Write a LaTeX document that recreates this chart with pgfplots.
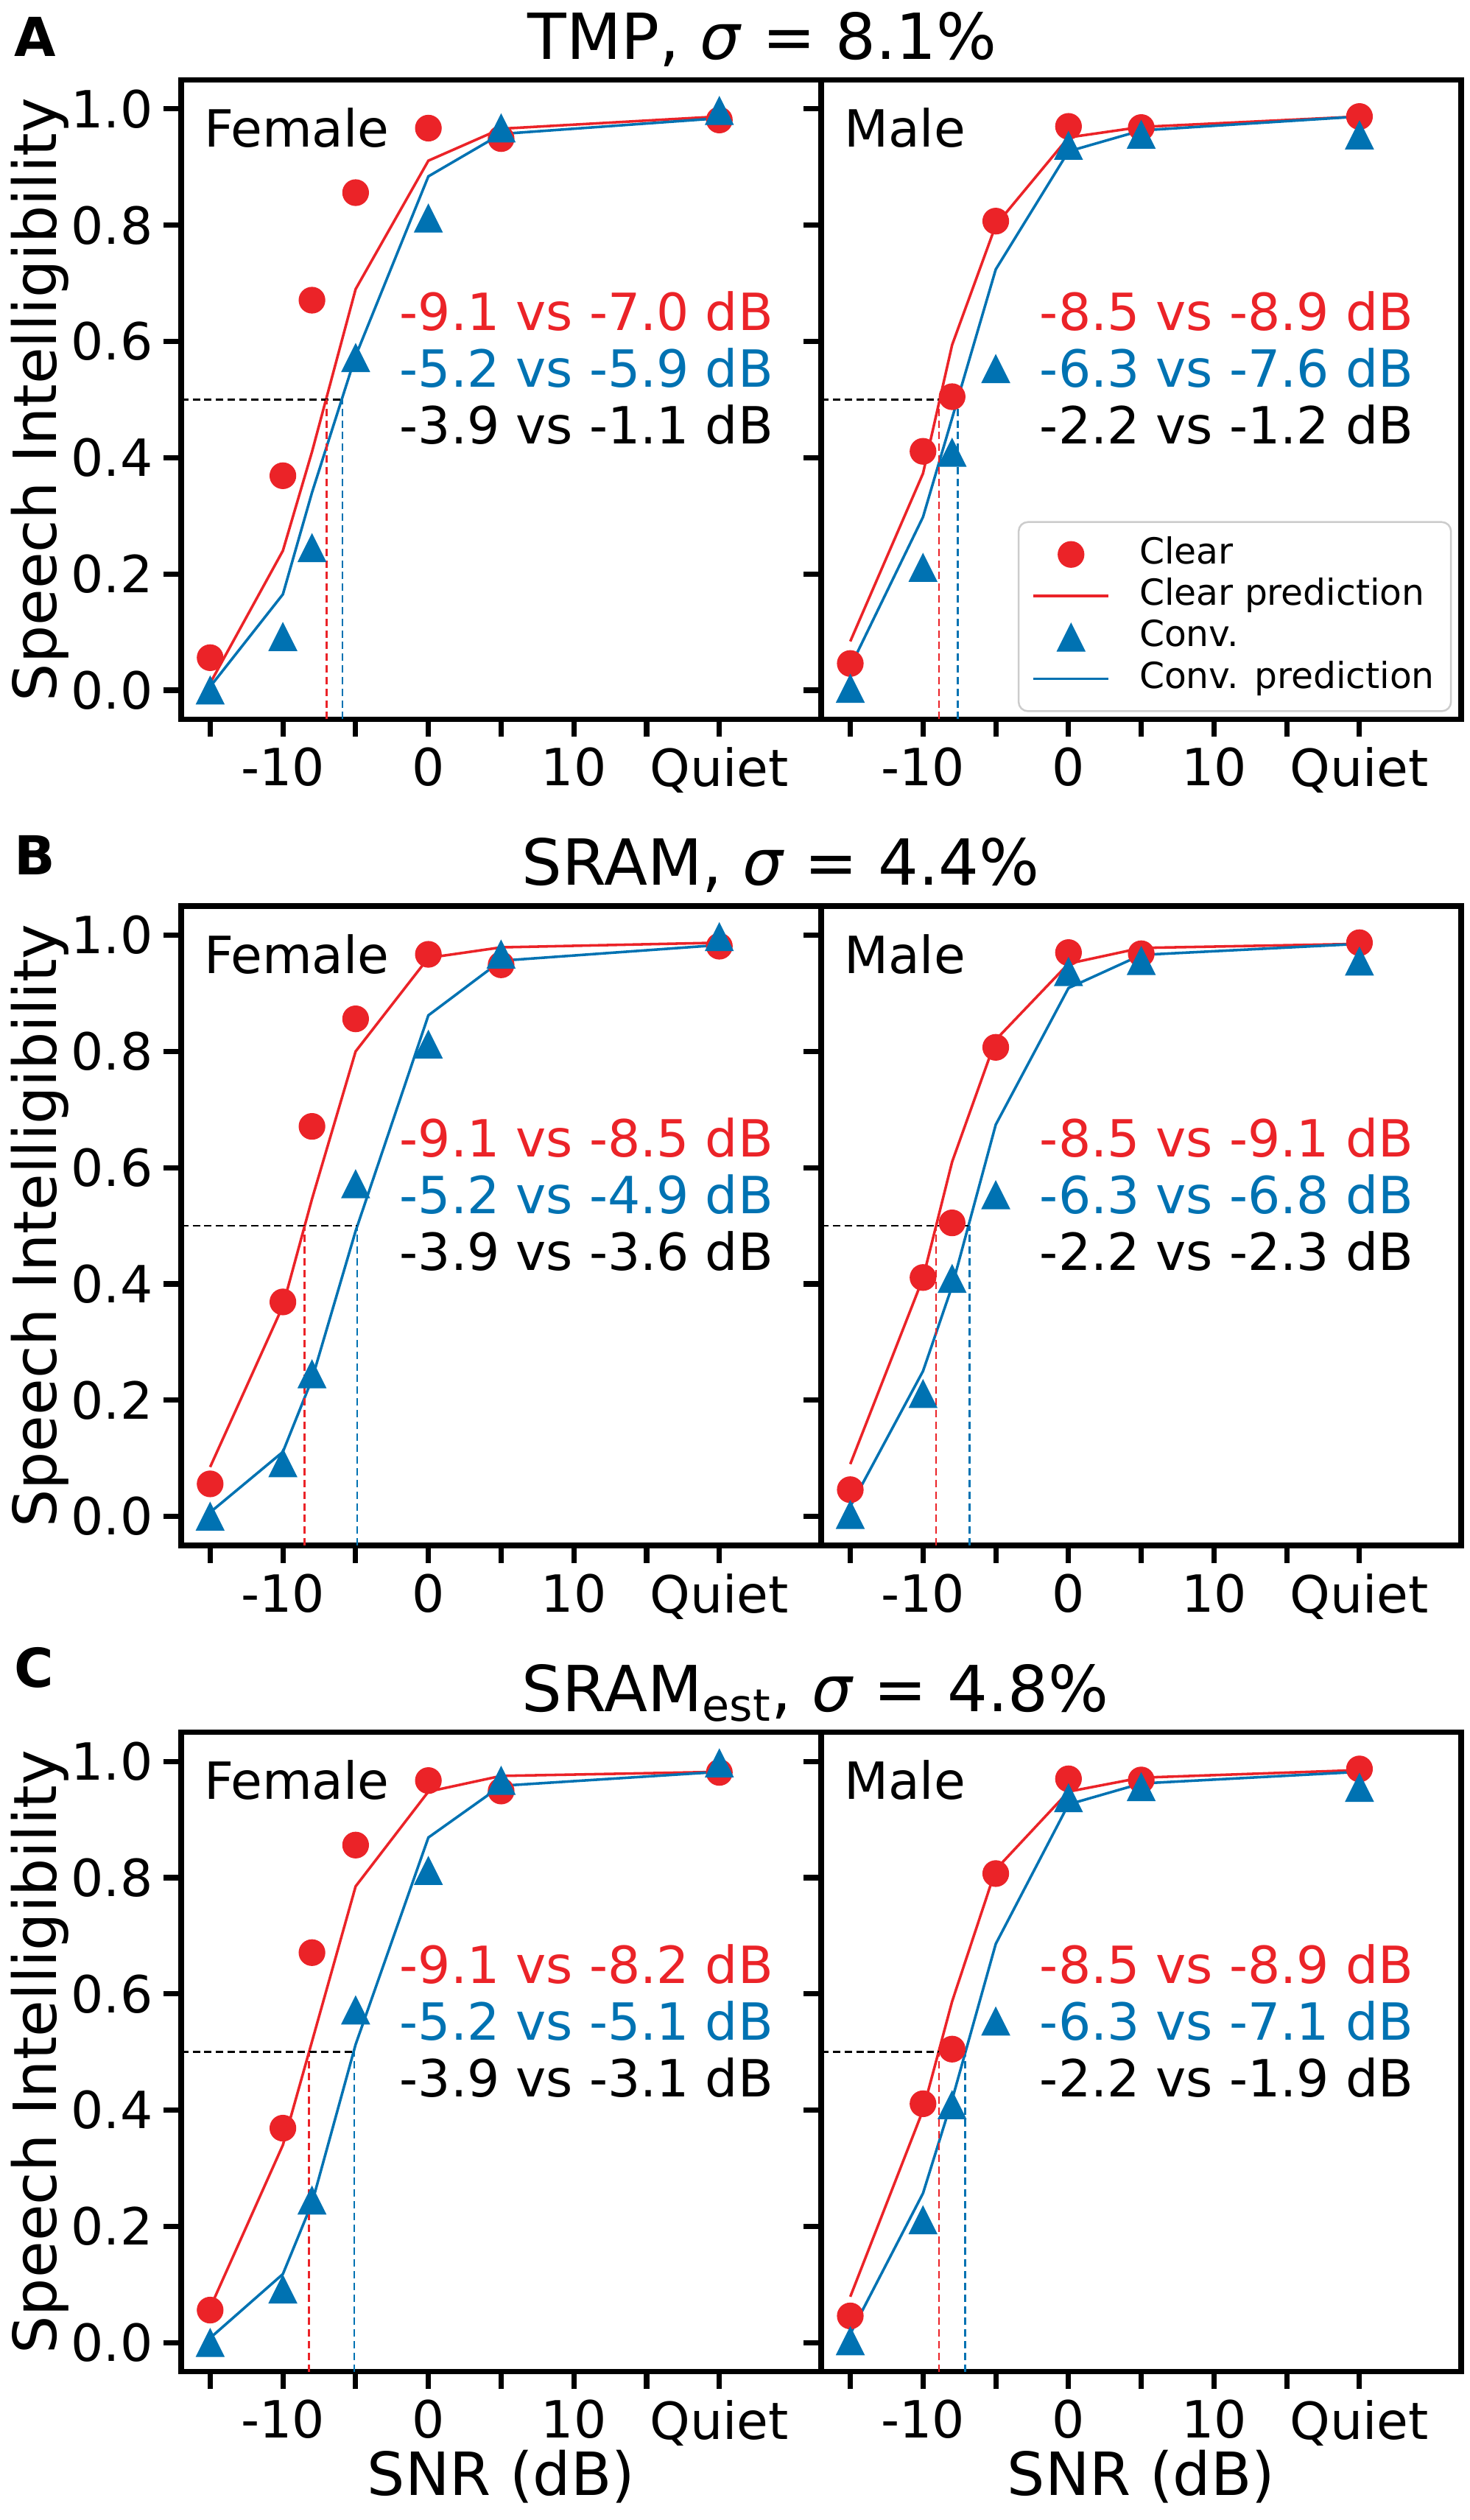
\documentclass[border=0pt]{standalone}
\usepackage{fontspec}
\setmainfont{DejaVu Sans}
\usepackage{pgfplots}
\pgfplotsset{compat=1.18}
\definecolor{cred}{RGB}{235,35,40}
\definecolor{cblue}{RGB}{0,114,178}
\newcommand{\fs}{\fontsize{16.7}{20}\selectfont}
\newcommand{\fl}{\fontsize{19.4}{23}\selectfont}
\newcommand{\ft}{\fontsize{20.7}{25}\selectfont}
\newcommand{\fleg}{\fontsize{11.7}{14}\selectfont}
\newcommand{\fA}{\fontsize{17.5}{21}\selectfont\bfseries}
\pgfdeclareplotmark{mtri}{%
  \pgfpathmoveto{\pgfqpoint{0pt}{\pgfplotmarksize}}%
  \pgfpathlineto{\pgfqpoint{-\pgfplotmarksize}{-\pgfplotmarksize}}%
  \pgfpathlineto{\pgfqpoint{\pgfplotmarksize}{-\pgfplotmarksize}}%
  \pgfpathclose\pgfusepathqfillstroke}
\pgfplotsset{
  panel/.style={
    scale only axis, width=208.6pt, height=208.32pt,
    xmin=-17, xmax=27, ymin=-0.05, ymax=1.05,
    xtick={-15,-10,-5,0,5,10,15,20},
    xticklabels={,-10,,0,,10,,Quiet},
    ytick={0,0.2,0.4,0.6,0.8,1.0},
    xtick pos=left, ytick pos=left, tick align=outside,
    major tick length=5.7pt,
    tick style={black, line width=1.7pt},
    axis line style={line width=1.8pt},
    ticklabel style={font=\fs},
    every axis y label/.style={at={(axis description cs:-0.195,0.5)}, rotate=90, anchor=base, font=\fl},
    every axis x label/.style={at={(axis description cs:0.5,-0.1933)}, anchor=base, font=\fl},
  },
  leftp/.style={panel, yticklabels={0.0,0.2,0.4,0.6,0.8,1.0}, ylabel={Speech Intelligibility}},
  rightp/.style={panel, yticklabels={}},
  legimg/.style={legend image code/.code={\draw[mark repeat=2,mark phase=2,##1] plot coordinates {(0pt,0pt) (12.25pt,0pt) (24.5pt,0pt)};}},
  clearmk/.style={only marks, mark=*, mark size=4.2pt, color=cred, line width=0.3pt, legimg},
  convmk/.style={only marks, mark=mtri, mark size=4.5pt, color=cblue, line width=0.3pt, legimg},
  redpred/.style={no marks, color=cred, line width=0.85pt, legimg},
  bluepred/.style={no marks, color=cblue, line width=0.85pt, legimg},
  dashk/.style={forget plot, no marks, line width=0.62pt, dash pattern=on 2.4pt off 1.4pt},
}
% SRT dashed guide lines: #1 red x, #2 blue x, #3 end of horizontal line
\newcommand{\srt}[3]{%
  \addplot[dashk, black] coordinates {(-17,0.5) (#3,0.5)};
  \addplot[dashk, cred] coordinates {(#1,-0.05) (#1,0.5)};
  \addplot[dashk, cblue] coordinates {(#2,-0.05) (#2,0.5)};
}
\newcommand{\femdata}{%
  \addplot[clearmk] coordinates {(-15,0.056) (-10,0.369) (-8,0.671) (-5,0.856) (0,0.967) (5,0.949) (20,0.981)};
}
\newcommand{\femconv}{%
  \addplot[convmk] coordinates {(-15,0.0) (-10,0.092) (-8,0.245) (-5,0.572) (0,0.812) (5,0.967) (20,0.997)};
}
\newcommand{\maldata}{%
  \addplot[clearmk] coordinates {(-15,0.046) (-10,0.411) (-8,0.505) (-5,0.807) (0,0.970) (5,0.968) (20,0.987)};
}
\newcommand{\malconv}{%
  \addplot[convmk] coordinates {(-15,0.003) (-10,0.211) (-8,0.409) (-5,0.553) (0,0.937) (5,0.956) (20,0.955)};
}
\newcommand{\annot}[3]{%
  \node[anchor=base west, inner sep=0pt, font=\fs, text=cred] at (rel axis cs:0.3406,0.6077) {#1};
  \node[anchor=base west, inner sep=0pt, font=\fs, text=cblue] at (rel axis cs:0.3406,0.519) {#2};
  \node[anchor=base west, inner sep=0pt, font=\fs, text=black] at (rel axis cs:0.3406,0.4303) {#3};
}
\newcommand{\sex}[1]{\node[anchor=base west, inner sep=0pt, font=\fs] at (rel axis cs:0.035,0.8952) {#1};}
\begin{document}
\begin{tikzpicture}
\path[use as bounding box] (0,0) rectangle (478.8pt,821.04pt);
% ---------------- Row A: TMP ----------------
\node[anchor=base west, inner sep=0pt, font=\fA] at (4.56pt,802.56pt) {A};
\node[anchor=base west, inner sep=0pt, font=\ft] at (171.84pt,801.7pt) {TMP, \textit{σ} = 8.1\%};
\begin{axis}[leftp, at={(59pt,586.68pt)}, anchor=south west]
\femdata
\addplot[redpred] coordinates {(-15,0.012) (-10,0.24) (-8,0.41) (-5,0.69) (0,0.911) (5,0.966) (20,0.987)};
\femconv
\addplot[bluepred] coordinates {(-15,0.006) (-10,0.165) (-8,0.34) (-5,0.575) (0,0.884) (5,0.957) (20,0.984)};
\srt{-7.0}{-5.9}{-5.9}
\sex{Female}
\annot{-9.1 vs -7.0 dB}{-5.2 vs -5.9 dB}{-3.9 vs -1.1 dB}
\end{axis}
\begin{axis}[rightp, at={(267.6pt,586.68pt)}, anchor=south west,
  legend style={at={(0.9853,0.0113)}, anchor=south east, draw=black!20, line width=0.6pt,
    rounded corners=3pt, fill=white, font=\fleg, inner xsep=4.4pt, inner ysep=4.1pt,
    row sep=0.6pt, column sep=8.6pt,
    nodes={inner xsep=1pt, inner ysep=0.9pt, text height=8.6pt, text depth=2.5pt}},
  legend cell align=left]
\maldata
\addlegendentry{Clear}
\addplot[redpred] coordinates {(-15,0.084) (-10,0.373) (-8,0.594) (-5,0.80) (0,0.951) (5,0.969) (20,0.987)};
\addlegendentry{Clear prediction}
\malconv
\addlegendentry{Conv.}
\addplot[bluepred] coordinates {(-15,0.04) (-10,0.298) (-8,0.468) (-5,0.724) (0,0.927) (5,0.963) (20,0.987)};
\addlegendentry{Conv. prediction}
\srt{-8.9}{-7.6}{-7.6}
\sex{Male}
\annot{-8.5 vs -8.9 dB}{-6.3 vs -7.6 dB}{-2.2 vs -1.2 dB}
\end{axis}
% ---------------- Row B: SRAM ----------------
\node[anchor=base west, inner sep=0pt, font=\fA] at (4.56pt,536.04pt) {B};
\node[anchor=base west, inner sep=0pt, font=\ft] at (169.92pt,532.56pt) {SRAM, \textit{σ} = 4.4\%};
\begin{axis}[leftp, at={(59pt,317.5pt)}, anchor=south west]
\femdata
\addplot[redpred] coordinates {(-15,0.085) (-10,0.362) (-8,0.546) (-5,0.80) (0,0.961) (5,0.979) (20,0.987)};
\femconv
\addplot[bluepred] coordinates {(-15,0.007) (-10,0.111) (-8,0.236) (-5,0.491) (0,0.862) (5,0.956) (20,0.983)};
\srt{-8.5}{-4.9}{-4.9}
\sex{Female}
\annot{-9.1 vs -8.5 dB}{-5.2 vs -4.9 dB}{-3.9 vs -3.6 dB}
\end{axis}
\begin{axis}[rightp, at={(267.6pt,317.5pt)}, anchor=south west]
\maldata
\addplot[redpred] coordinates {(-15,0.09) (-10,0.41) (-8,0.61) (-5,0.82) (0,0.951) (5,0.978) (20,0.985)};
\malconv
\addplot[bluepred] coordinates {(-15,0.017) (-10,0.25) (-8,0.396) (-5,0.674) (0,0.909) (5,0.966) (20,0.985)};
\srt{-9.1}{-6.8}{-6.8}
\sex{Male}
\annot{-8.5 vs -9.1 dB}{-6.3 vs -6.8 dB}{-2.2 vs -2.3 dB}
\end{axis}
% ---------------- Row C: SRAM_est ----------------
\node[anchor=base west, inner sep=0pt, font=\fA] at (4.56pt,271.2pt) {C};
\node[anchor=base west, inner sep=0pt, font=\ft] at (169.92pt,263.35pt) {SRAM\textsubscript{est}, \textit{σ} = 4.8\%};
\begin{axis}[leftp, at={(59pt,48.31pt)}, anchor=south west, xlabel={SNR (dB)}]
\femdata
\addplot[redpred] coordinates {(-15,0.06) (-10,0.34) (-8,0.518) (-5,0.785) (0,0.948) (5,0.975) (20,0.982)};
\femconv
\addplot[bluepred] coordinates {(-15,0.008) (-10,0.118) (-8,0.24) (-5,0.513) (0,0.869) (5,0.958) (20,0.982)};
\srt{-8.2}{-5.1}{-5.1}
\sex{Female}
\annot{-9.1 vs -8.2 dB}{-5.2 vs -5.1 dB}{-3.9 vs -3.1 dB}
\end{axis}
\begin{axis}[rightp, at={(267.6pt,48.31pt)}, anchor=south west, xlabel={SNR (dB)}]
\maldata
\addplot[redpred] coordinates {(-15,0.079) (-10,0.40) (-8,0.587) (-5,0.814) (0,0.948) (5,0.972) (20,0.985)};
\malconv
\addplot[bluepred] coordinates {(-15,0.015) (-10,0.257) (-8,0.418) (-5,0.686) (0,0.926) (5,0.962) (20,0.982)};
\srt{-8.9}{-7.1}{-7.1}
\sex{Male}
\annot{-8.5 vs -8.9 dB}{-6.3 vs -7.1 dB}{-2.2 vs -1.9 dB}
\end{axis}
\end{tikzpicture}
\end{document}
